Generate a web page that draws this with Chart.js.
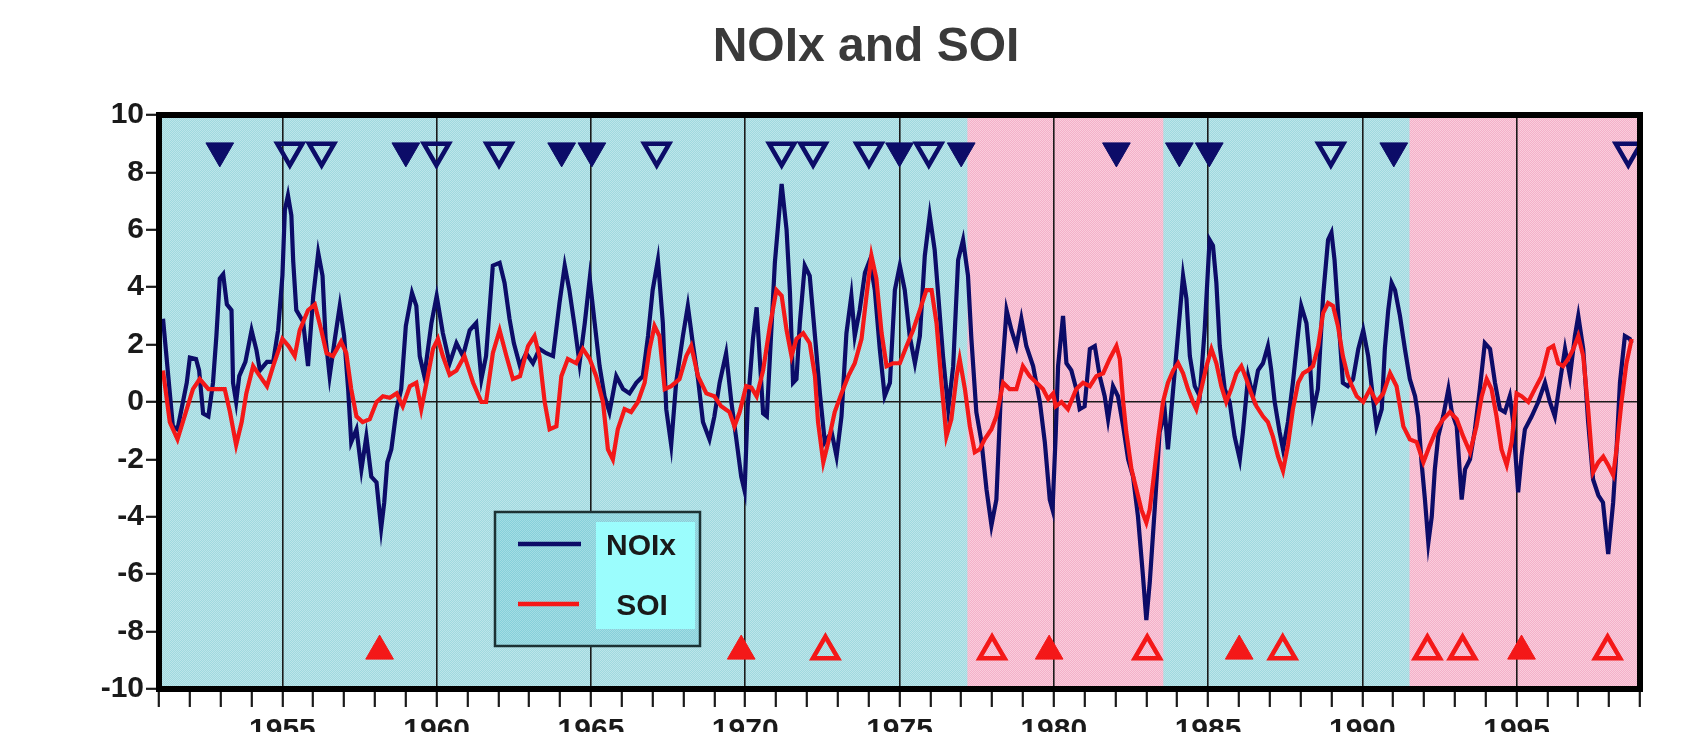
<!DOCTYPE html>
<html lang="en">
<head>
  <meta charset="UTF-8">
  <title>NOIx and SOI</title>
  <script src="https://cdn.jsdelivr.net/npm/chart.js"></script>
  <style>
    html, body { margin: 0; padding: 0; background: #fff; overflow: hidden; }
    #wrap { width: 1694px; height: 760px; }
  </style>
</head>
<body>
  <div id="wrap"><canvas id="myChart"></canvas></div>
  <script>
    // ---- data: [year, value] ----
    const noixPoints = [
      [1951.13, 2.9], [1951.45, -0.85], [1951.6, -0.95], [1951.9, 0.67], [1952.0, 1.55], [1952.2, 1.5],
      [1952.3, 1.1], [1952.43, -0.4], [1952.6, -0.5], [1952.75, 0.67], [1952.86, 2.3], [1952.97, 4.3],
      [1953.08, 4.45], [1953.2, 3.4], [1953.35, 3.2], [1953.4, 0.67], [1953.5, 0], [1953.6, 0.9],
      [1953.8, 1.4], [1954.0, 2.5], [1954.16, 1.8], [1954.27, 1.1], [1954.5, 1.4], [1954.7, 1.4],
      [1954.86, 2.5], [1955.0, 4.4], [1955.08, 6.7], [1955.18, 7.2], [1955.29, 6.5], [1955.35, 4.9],
      [1955.45, 3.2], [1955.67, 2.8], [1955.83, 1.25], [1956.0, 3.7], [1956.16, 5.2], [1956.3, 4.4],
      [1956.4, 2.2], [1956.53, 0.9], [1956.7, 2.2], [1956.86, 3.35], [1957.0, 2.3], [1957.13, 0.45],
      [1957.23, -1.4], [1957.4, -0.95], [1957.56, -2.35], [1957.72, -1.2], [1957.88, -2.6], [1958.05, -2.8],
      [1958.2, -4.4], [1958.3, -3.5], [1958.4, -2.1], [1958.53, -1.65], [1958.7, -0.25], [1958.85, 0.45],
      [1959.0, 2.65], [1959.2, 3.8], [1959.34, 3.35], [1959.45, 1.6], [1959.6, 0.9], [1959.83, 2.75],
      [1960.0, 3.7], [1960.2, 2.4], [1960.42, 1.35], [1960.64, 2.05], [1960.85, 1.6], [1961.07, 2.5],
      [1961.28, 2.75], [1961.45, 0.8], [1961.6, 1.6], [1961.82, 4.75], [1962.04, 4.85], [1962.2, 4.15],
      [1962.36, 2.9], [1962.5, 2.05], [1962.7, 1.25], [1962.9, 1.7], [1963.12, 1.35], [1963.33, 1.85],
      [1963.55, 1.7], [1963.77, 1.6], [1963.98, 3.45], [1964.15, 4.75], [1964.3, 3.9], [1964.47, 2.65],
      [1964.63, 1.35], [1964.8, 2.75], [1964.96, 4.3], [1965.12, 2.75], [1965.28, 1.25], [1965.44, 0.2],
      [1965.6, -0.35], [1965.82, 0.9], [1966.04, 0.45], [1966.25, 0.3], [1966.47, 0.67], [1966.68, 0.9],
      [1966.85, 2.3], [1967.0, 3.9], [1967.17, 4.95], [1967.33, 2.75], [1967.44, -0.25], [1967.6, -1.5],
      [1967.76, 0.67], [1967.98, 2.3], [1968.14, 3.35], [1968.3, 2.05], [1968.47, 0.8], [1968.63, -0.7],
      [1968.84, -1.3], [1969.0, -0.5], [1969.17, 0.67], [1969.38, 1.7], [1969.55, 0], [1969.7, -1.2],
      [1969.87, -2.6], [1969.98, -3.1], [1970.08, -0.15], [1970.25, 2.2], [1970.37, 3.3], [1970.58, -0.4],
      [1970.7, -0.5], [1970.96, 4.85], [1971.18, 7.6], [1971.34, 6.0], [1971.45, 3.8], [1971.55, 0.67],
      [1971.66, 0.8], [1971.77, 2.75], [1971.93, 4.75], [1972.09, 4.4], [1972.26, 2.3], [1972.42, 0.3],
      [1972.58, -1.4], [1972.8, -1.05], [1972.96, -1.9], [1973.12, -0.5], [1973.28, 2.4], [1973.44, 3.7],
      [1973.55, 2.3], [1973.71, 3.2], [1973.88, 4.5], [1974.04, 4.95], [1974.2, 3.9], [1974.36, 1.85],
      [1974.52, 0.2], [1974.69, 0.67], [1974.85, 3.9], [1975.01, 4.75], [1975.17, 3.9], [1975.33, 2.3],
      [1975.5, 1.35], [1975.66, 2.3], [1975.82, 5.1], [1975.98, 6.5], [1976.14, 5.3], [1976.25, 3.8],
      [1976.41, 1.6], [1976.58, -0.25], [1976.74, 1.25], [1976.9, 4.95], [1977.06, 5.65], [1977.22, 4.4],
      [1977.33, 2.2], [1977.49, -0.35], [1977.66, -1.4], [1977.82, -3.05], [1977.98, -4.3], [1978.14, -3.4],
      [1978.3, 0.67], [1978.47, 3.2], [1978.63, 2.5], [1978.79, 1.95], [1978.95, 2.9], [1979.11, 1.95],
      [1979.33, 1.25], [1979.55, 0], [1979.71, -1.4], [1979.87, -3.4], [1979.96, -3.75], [1980.06, -1.2],
      [1980.14, 1.25], [1980.3, 3.0], [1980.41, 1.35], [1980.57, 1.1], [1980.73, 0.45], [1980.84, -0.25],
      [1981.0, -0.15], [1981.17, 1.85], [1981.33, 1.95], [1981.49, 0.9], [1981.65, 0.2], [1981.76, -0.6],
      [1981.92, 0.55], [1982.08, 0.2], [1982.25, -0.85], [1982.41, -2.0], [1982.57, -2.6], [1982.73, -4.0],
      [1982.89, -6.05], [1983.0, -7.6], [1983.11, -6.3], [1983.27, -3.75], [1983.43, -1.05], [1983.6, -0.35],
      [1983.7, -1.65], [1983.87, 0.45], [1984.03, 2.4], [1984.19, 4.4], [1984.3, 3.6], [1984.41, 1.6],
      [1984.57, 0.55], [1984.73, 0.2], [1984.89, 2.5], [1985.05, 5.65], [1985.16, 5.45], [1985.27, 4.15],
      [1985.38, 1.95], [1985.54, 0.45], [1985.7, 0], [1985.86, -1.2], [1986.03, -2.0], [1986.13, -1.05],
      [1986.3, 0.9], [1986.46, 0.2], [1986.62, 1.1], [1986.78, 1.35], [1986.94, 1.95], [1987.05, 1.1],
      [1987.16, 0], [1987.32, -1.05], [1987.43, -1.65], [1987.59, -0.7], [1987.75, 0.67], [1987.92, 2.4],
      [1988.02, 3.35], [1988.19, 2.75], [1988.29, 1.6], [1988.4, -0.35], [1988.56, 0.45], [1988.73, 3.7],
      [1988.89, 5.65], [1989.0, 5.9], [1989.1, 4.95], [1989.21, 3.2], [1989.37, 0.67], [1989.53, 0.55],
      [1989.7, 0.8], [1989.87, 1.85], [1990.03, 2.5], [1990.19, 1.6], [1990.36, 0], [1990.46, -0.85],
      [1990.63, -0.25], [1990.73, 1.85], [1990.84, 3.2], [1990.95, 4.15], [1991.06, 3.9], [1991.22, 3.0],
      [1991.38, 1.85], [1991.54, 0.8], [1991.71, 0.2], [1991.81, -0.5], [1991.92, -2.1], [1992.03, -3.4],
      [1992.14, -4.9], [1992.25, -4.0], [1992.35, -2.35], [1992.46, -1.2], [1992.62, -0.5], [1992.79, 0.45],
      [1992.9, -0.35], [1993.06, -0.85], [1993.22, -3.4], [1993.33, -2.35], [1993.49, -2.0], [1993.65, -0.95],
      [1993.81, 0.45], [1993.97, 2.05], [1994.14, 1.85], [1994.3, 0.67], [1994.46, -0.25], [1994.62, -0.35],
      [1994.78, 0.2], [1994.89, -0.7], [1995.05, -3.15], [1995.16, -1.9], [1995.27, -0.95], [1995.49, -0.5],
      [1995.7, 0], [1995.92, 0.67], [1996.08, 0], [1996.24, -0.5], [1996.4, 0.67], [1996.57, 1.85],
      [1996.73, 0.9], [1996.89, 2.3], [1997.0, 3.0], [1997.16, 1.85], [1997.32, -0.7], [1997.48, -2.7],
      [1997.65, -3.25], [1997.8, -3.5], [1997.97, -5.3], [1998.13, -3.5], [1998.24, -1.65], [1998.35, 0.67],
      [1998.51, 2.3], [1998.67, 2.2], [1998.73, 2.05]
    ];

    const soiPoints = [
      [1951.13, 1.1], [1951.35, -0.7], [1951.6, -1.3], [1951.9, -0.25], [1952.1, 0.45], [1952.32, 0.8],
      [1952.6, 0.45], [1952.86, 0.45], [1953.13, 0.45], [1953.3, -0.35], [1953.5, -1.5], [1953.68, -0.7],
      [1953.83, 0.3], [1954.05, 1.25], [1954.27, 0.9], [1954.5, 0.55], [1954.7, 1.25], [1955.0, 2.2],
      [1955.2, 1.95], [1955.4, 1.6], [1955.56, 2.5], [1955.83, 3.2], [1956.05, 3.4], [1956.26, 2.5],
      [1956.43, 1.7], [1956.64, 1.6], [1956.9, 2.1], [1957.07, 1.7], [1957.23, 0.45], [1957.4, -0.5],
      [1957.6, -0.7], [1957.83, -0.6], [1958.05, 0], [1958.26, 0.2], [1958.48, 0.15], [1958.7, 0.3],
      [1958.9, -0.15], [1959.13, 0.55], [1959.34, 0.67], [1959.5, -0.25], [1959.67, 0.67], [1959.88, 1.85],
      [1960.04, 2.2], [1960.2, 1.6], [1960.42, 0.95], [1960.64, 1.1], [1960.9, 1.6], [1961.18, 0.67],
      [1961.45, 0], [1961.6, 0], [1961.82, 1.7], [1962.04, 2.5], [1962.26, 1.6], [1962.47, 0.8],
      [1962.7, 0.9], [1962.96, 1.95], [1963.17, 2.3], [1963.33, 1.6], [1963.5, 0], [1963.66, -0.95],
      [1963.88, -0.85], [1964.04, 0.9], [1964.25, 1.5], [1964.52, 1.35], [1964.74, 1.85], [1964.96, 1.5],
      [1965.17, 0.9], [1965.39, 0], [1965.55, -1.65], [1965.71, -2.0], [1965.87, -0.95], [1966.09, -0.25],
      [1966.3, -0.35], [1966.52, 0], [1966.74, 0.67], [1966.9, 1.85], [1967.06, 2.65], [1967.22, 2.3],
      [1967.39, 0.45], [1967.6, 0.55], [1967.87, 0.8], [1968.09, 1.6], [1968.25, 1.95], [1968.47, 0.9],
      [1968.74, 0.3], [1969.0, 0.2], [1969.22, -0.15], [1969.49, -0.35], [1969.65, -0.85], [1969.82, -0.35],
      [1970.03, 0.55], [1970.2, 0.5], [1970.37, 0.2], [1970.58, 1.1], [1970.8, 2.65], [1971.01, 3.9],
      [1971.18, 3.7], [1971.34, 2.5], [1971.5, 1.6], [1971.66, 2.2], [1971.88, 2.4], [1972.09, 2.05],
      [1972.26, 0.9], [1972.36, -0.7], [1972.53, -2.1], [1972.69, -1.4], [1972.9, -0.35], [1973.12, 0.3],
      [1973.34, 0.9], [1973.55, 1.35], [1973.77, 2.2], [1973.93, 3.7], [1974.09, 5.1], [1974.25, 4.3],
      [1974.42, 2.4], [1974.58, 1.25], [1974.79, 1.35], [1975.01, 1.35], [1975.23, 1.95], [1975.44, 2.5],
      [1975.66, 3.2], [1975.87, 3.9], [1976.04, 3.9], [1976.2, 2.75], [1976.36, 0.67], [1976.52, -1.2],
      [1976.68, -0.6], [1976.85, 0.9], [1976.95, 1.5], [1977.12, 0.45], [1977.28, -0.85], [1977.44, -1.75],
      [1977.6, -1.65], [1977.76, -1.3], [1977.98, -0.95], [1978.14, -0.5], [1978.36, 0.67], [1978.57, 0.45],
      [1978.79, 0.45], [1979.0, 1.25], [1979.22, 0.9], [1979.44, 0.67], [1979.65, 0.45], [1979.82, 0.1],
      [1979.98, 0.3], [1980.06, -0.15], [1980.25, 0], [1980.46, -0.25], [1980.73, 0.45], [1980.95, 0.67],
      [1981.17, 0.55], [1981.38, 0.9], [1981.6, 1.0], [1981.81, 1.5], [1982.03, 1.95], [1982.14, 1.5],
      [1982.25, 0], [1982.35, -1.05], [1982.52, -2.35], [1982.68, -3.05], [1982.84, -3.75], [1983.0, -4.2],
      [1983.11, -3.75], [1983.22, -2.8], [1983.38, -1.3], [1983.54, 0], [1983.7, 0.67], [1983.87, 1.1],
      [1984.03, 1.35], [1984.19, 1.0], [1984.35, 0.45], [1984.51, 0], [1984.62, -0.25], [1984.78, 0.45],
      [1984.95, 1.25], [1985.11, 1.85], [1985.27, 1.35], [1985.43, 0.55], [1985.59, 0], [1985.75, 0.45],
      [1985.92, 1.0], [1986.08, 1.25], [1986.24, 0.8], [1986.4, 0.3], [1986.57, -0.15], [1986.78, -0.5],
      [1986.94, -0.7], [1987.1, -1.2], [1987.27, -1.9], [1987.43, -2.4], [1987.59, -1.5], [1987.75, -0.25],
      [1987.92, 0.67], [1988.08, 1.0], [1988.24, 1.1], [1988.4, 1.25], [1988.57, 1.95], [1988.73, 3.1],
      [1988.89, 3.45], [1989.05, 3.35], [1989.21, 2.65], [1989.37, 1.6], [1989.53, 0.9], [1989.65, 0.6],
      [1989.82, 0.2], [1990.03, 0], [1990.25, 0.45], [1990.46, 0], [1990.68, 0.3], [1990.9, 1.0],
      [1991.11, 0.55], [1991.33, -0.85], [1991.54, -1.3], [1991.76, -1.4], [1991.98, -2.1], [1992.19, -1.5],
      [1992.41, -0.95], [1992.62, -0.6], [1992.84, -0.35], [1993.06, -0.6], [1993.27, -1.2], [1993.49, -1.75],
      [1993.7, -0.85], [1993.87, 0.2], [1994.03, 0.8], [1994.19, 0.45], [1994.35, -0.5], [1994.51, -1.65],
      [1994.68, -2.2], [1994.84, -1.4], [1995.0, 0.3], [1995.16, 0.2], [1995.38, 0], [1995.59, 0.45],
      [1995.81, 0.9], [1996.03, 1.85], [1996.19, 1.95], [1996.35, 1.35], [1996.51, 1.25], [1996.67, 1.5],
      [1996.84, 1.85], [1997.0, 2.3], [1997.16, 1.6], [1997.32, -0.25], [1997.48, -2.45], [1997.65, -2.1],
      [1997.81, -1.9], [1997.97, -2.2], [1998.13, -2.55], [1998.24, -1.65], [1998.4, 0], [1998.56, 1.35],
      [1998.73, 2.2]
    ];

    // event markers (years); navy ones sit at the top, red ones at the bottom
    const noixFilledYears = [1952.97, 1959.0, 1964.05, 1965.03, 1975.0, 1977.0, 1982.03, 1984.07, 1985.04, 1991.02];
    const noixOpenYears = [1955.24, 1956.27, 1959.99, 1962.02, 1967.13, 1971.18, 1972.2, 1974.01, 1975.95, 1988.98, 1998.62];
    const soiFilledYears = [1958.15, 1969.87, 1979.85, 1986.01, 1995.16];
    const soiOpenYears = [1972.6, 1978.0, 1983.03, 1987.42, 1992.11, 1993.25, 1997.95];
    const noixMarkLevel = 8.75;
    const soiMarkLevel = -8.68;

    // shaded (pink) periods
    const pinkPeriods = [[1977.2, 1983.55], [1991.53, 1999]];

    const yearMin = 1951, yearMax = 1999;
    const titleText = 'NOIx and SOI';
    const legendLabels = ['NOIx', 'SOI'];

    const NAVY = '#0c0c68';
    const RED = '#f41818';
    const FONT = '"Liberation Sans", Arial, sans-serif';

    function dotPattern(base, dot) {
      const c = document.createElement('canvas');
      c.width = 2; c.height = 2;
      const g = c.getContext('2d');
      g.fillStyle = base; g.fillRect(0, 0, 2, 2);
      g.fillStyle = dot; g.fillRect(0, 0, 1, 1); g.fillRect(1, 1, 1, 1);
      return c;
    }

    const decor = {
      id: 'decor',
      beforeDraw(chart) {
        const { ctx, chartArea: a, scales: { x } } = chart;
        ctx.save();
        ctx.fillStyle = ctx.createPattern(dotPattern('#a0d9df', '#bde5ea'), 'repeat');
        ctx.fillRect(a.left, a.top, a.width, a.height);
        ctx.fillStyle = ctx.createPattern(dotPattern('#f4b0c9', '#f9cddc'), 'repeat');
        pinkPeriods.forEach(([s, e]) => {
          const x0 = x.getPixelForValue(s), x1 = x.getPixelForValue(e);
          ctx.fillRect(x0, a.top, x1 - x0, a.height);
        });
        ctx.restore();
      },
      afterDraw(chart) {
        const { ctx, chartArea: a } = chart;
        ctx.save();
        // heavy frame
        ctx.lineWidth = 6;
        ctx.strokeStyle = '#000';
        ctx.strokeRect(a.left, a.top, a.width, a.height);

        // legend box
        ctx.fillStyle = ctx.createPattern(dotPattern('#86d0da', '#a3dde4'), 'repeat');
        ctx.fillRect(495, 512, 205, 134);
        ctx.fillStyle = '#9bfdfd';
        ctx.fillRect(596, 522, 99, 107);
        ctx.lineWidth = 2.5;
        ctx.strokeStyle = '#1c3234';
        ctx.strokeRect(495, 512, 205, 134);
        ctx.lineWidth = 4.5;
        ctx.strokeStyle = NAVY;
        ctx.beginPath(); ctx.moveTo(518, 544); ctx.lineTo(581, 544); ctx.stroke();
        ctx.strokeStyle = RED;
        ctx.beginPath(); ctx.moveTo(518, 604); ctx.lineTo(579, 604); ctx.stroke();
        ctx.fillStyle = '#1a1a1a';
        ctx.font = 'bold 30px ' + FONT;
        ctx.textAlign = 'center';
        ctx.textBaseline = 'middle';
        ctx.fillText(legendLabels[0], 641, 547);
        ctx.fillText(legendLabels[1], 642, 607);

        // title
        ctx.fillStyle = '#3a3a3a';
        ctx.font = 'bold 48px ' + FONT;
        ctx.textBaseline = 'alphabetic';
        ctx.fillText(titleText, 866, 61);
        ctx.restore();
      }
    };

    const toXY = pts => pts.map(([x, y]) => ({ x, y }));
    const marks = (years, level) => years.map(x => ({ x, y: level }));

    new Chart(document.getElementById('myChart'), {
      type: 'line',
      data: {
        datasets: [
          {
            label: 'SOI', data: toXY(soiPoints), borderColor: RED, borderWidth: 4.2,
            pointRadius: 0, tension: 0, order: 1
          },
          {
            label: 'NOIx', data: toXY(noixPoints), borderColor: NAVY, borderWidth: 4.2,
            pointRadius: 0, tension: 0, order: 2
          },
          {
            data: marks(noixFilledYears, noixMarkLevel), showLine: false, order: 0,
            pointStyle: 'triangle', pointRotation: 180, pointRadius: 16,
            pointBackgroundColor: NAVY, pointBorderColor: NAVY, pointBorderWidth: 1
          },
          {
            data: marks(noixOpenYears, noixMarkLevel), showLine: false, order: 0,
            pointStyle: 'triangle', pointRotation: 180, pointRadius: 14.5,
            pointBackgroundColor: 'rgba(0,0,0,0)', pointBorderColor: NAVY, pointBorderWidth: 4.5
          },
          {
            data: marks(soiFilledYears, soiMarkLevel), showLine: false, order: 0,
            pointStyle: 'triangle', pointRadius: 16,
            pointBackgroundColor: RED, pointBorderColor: RED, pointBorderWidth: 1
          },
          {
            data: marks(soiOpenYears, soiMarkLevel), showLine: false, order: 0,
            pointStyle: 'triangle', pointRadius: 14.5,
            pointBackgroundColor: 'rgba(0,0,0,0)', pointBorderColor: RED, pointBorderWidth: 4.5
          }
        ]
      },
      options: {
        responsive: true,
        maintainAspectRatio: false,
        animation: false,
        events: [],
        layout: { padding: { top: 115, right: 54, left: 0, bottom: 0 } },
        plugins: { legend: { display: false }, tooltip: { enabled: false }, title: { display: false } },
        scales: {
          x: {
            type: 'linear', min: yearMin, max: yearMax,
            ticks: {
              stepSize: 1, autoSkip: false, maxRotation: 0, padding: 6, color: '#1a1a1a',
              font: { family: FONT, size: 30, weight: 'bold' },
              callback: v => (v % 5 === 0 ? String(v) : '')
            },
            grid: {
              color: c => (c.tick && c.tick.value % 5 === 0 ? '#1a1a1a' : 'rgba(0,0,0,0)'),
              lineWidth: 1.6, tickColor: '#1a1a1a', tickLength: 18, tickWidth: 2.2
            },
            border: { display: false },
            afterFit: s => { s.height = 760 - 689; }
          },
          y: {
            min: -10, max: 10,
            ticks: {
              stepSize: 2, padding: 2, color: '#1a1a1a',
              font: { family: FONT, size: 30, weight: 'bold' }
            },
            grid: {
              color: c => (c.tick && c.tick.value === 0 ? '#1a1a1a' : 'rgba(0,0,0,0)'),
              lineWidth: 1.6, tickColor: '#1a1a1a', tickLength: 13, tickWidth: 2.2
            },
            border: { display: false },
            afterFit: s => { s.width = 159; }
          }
        }
      },
      plugins: [decor]
    });
  </script>
</body>
</html>
